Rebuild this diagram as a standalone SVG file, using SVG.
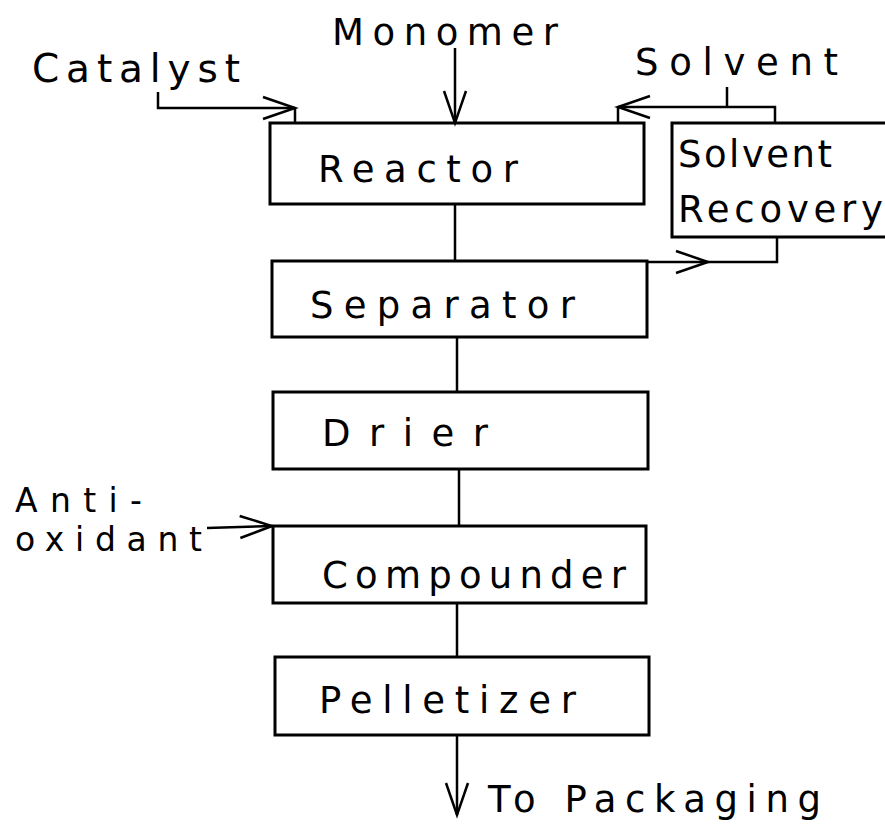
<svg xmlns="http://www.w3.org/2000/svg" width="885" height="824" viewBox="0 0 885 824">
<style>
.box{fill:none;stroke:#000;stroke-width:3}
.ln{fill:none;stroke:#000;stroke-width:2.5}
text{font-family:"DejaVu Sans","Liberation Sans",Arial,sans-serif;font-size:37px;fill:#000}
.sm{font-size:33px}
</style>
<defs>
<marker id="ah" markerUnits="userSpaceOnUse" viewBox="-36 -14 40 28" markerWidth="40" markerHeight="28" refX="0" refY="0" orient="auto">
<path d="M-32 -11 L0 0 L-32 11" fill="none" stroke="#000" stroke-width="2.5"/>
</marker>
</defs>
<rect width="885" height="824" fill="#fff"/>
<g id="connectors">
<path class="ln" d="M158 92 V108 H295" marker-end="url(#ah)"/>
<path class="ln" d="M295 108 V123"/>
<path class="ln" d="M455 48 V123" marker-end="url(#ah)"/>
<path class="ln" d="M727 87 V107"/>
<path class="ln" d="M775 123 V107 H618" marker-end="url(#ah)"/>
<path class="ln" d="M618 107 V123"/>
<path class="ln" d="M455 204 V261"/>
<path class="ln" d="M647 262 H708" marker-end="url(#ah)"/>
<path class="ln" d="M708 262 H777 V237"/>
<path class="ln" d="M457 337 V392"/>
<path class="ln" d="M459 469 V526"/>
<path class="ln" d="M207 528 L272 526" marker-end="url(#ah)"/>
<path class="ln" d="M457 603 V657"/>
<path class="ln" d="M457 735 V815" marker-end="url(#ah)"/>
</g>
<g id="labels">
<text x="32" y="82" style="font-size:39px" textLength="208" lengthAdjust="spacing">Catalyst</text>
<text x="332" y="45" textLength="226" lengthAdjust="spacing">Monomer</text>
<text x="635" y="75" textLength="203" lengthAdjust="spacing">Solvent</text>
<text class="sm" x="15" y="512" textLength="127" lengthAdjust="spacing">Anti-</text>
<text class="sm" x="15" y="551" textLength="187" lengthAdjust="spacing">oxidant</text>
<text x="488" y="812" textLength="333" lengthAdjust="spacing">To Packaging</text>
</g>
<g id="reactor">
<rect class="box" x="270" y="123" width="374" height="81"/>
<text x="318" y="182" textLength="200" lengthAdjust="spacing">Reactor</text>
</g>
<g id="solvent-recovery">
<rect class="box" x="672" y="123" width="220" height="114"/>
<text x="678" y="167" textLength="154" lengthAdjust="spacing">Solvent</text>
<text x="678" y="222" textLength="205" lengthAdjust="spacing">Recovery</text>
</g>
<g id="separator">
<rect class="box" x="272" y="261" width="375" height="76"/>
<text x="310" y="318" textLength="265" lengthAdjust="spacing">Separator</text>
</g>
<g id="drier">
<rect class="box" x="273" y="392" width="375" height="77"/>
<text x="322" y="446" textLength="166" lengthAdjust="spacing">Drier</text>
</g>
<g id="compounder">
<rect class="box" x="273" y="526" width="373" height="77"/>
<text x="322" y="588" textLength="304" lengthAdjust="spacing">Compounder</text>
</g>
<g id="pelletizer">
<rect class="box" x="275" y="657" width="374" height="78"/>
<text x="319" y="713" textLength="257" lengthAdjust="spacing">Pelletizer</text>
</g>
</svg>
